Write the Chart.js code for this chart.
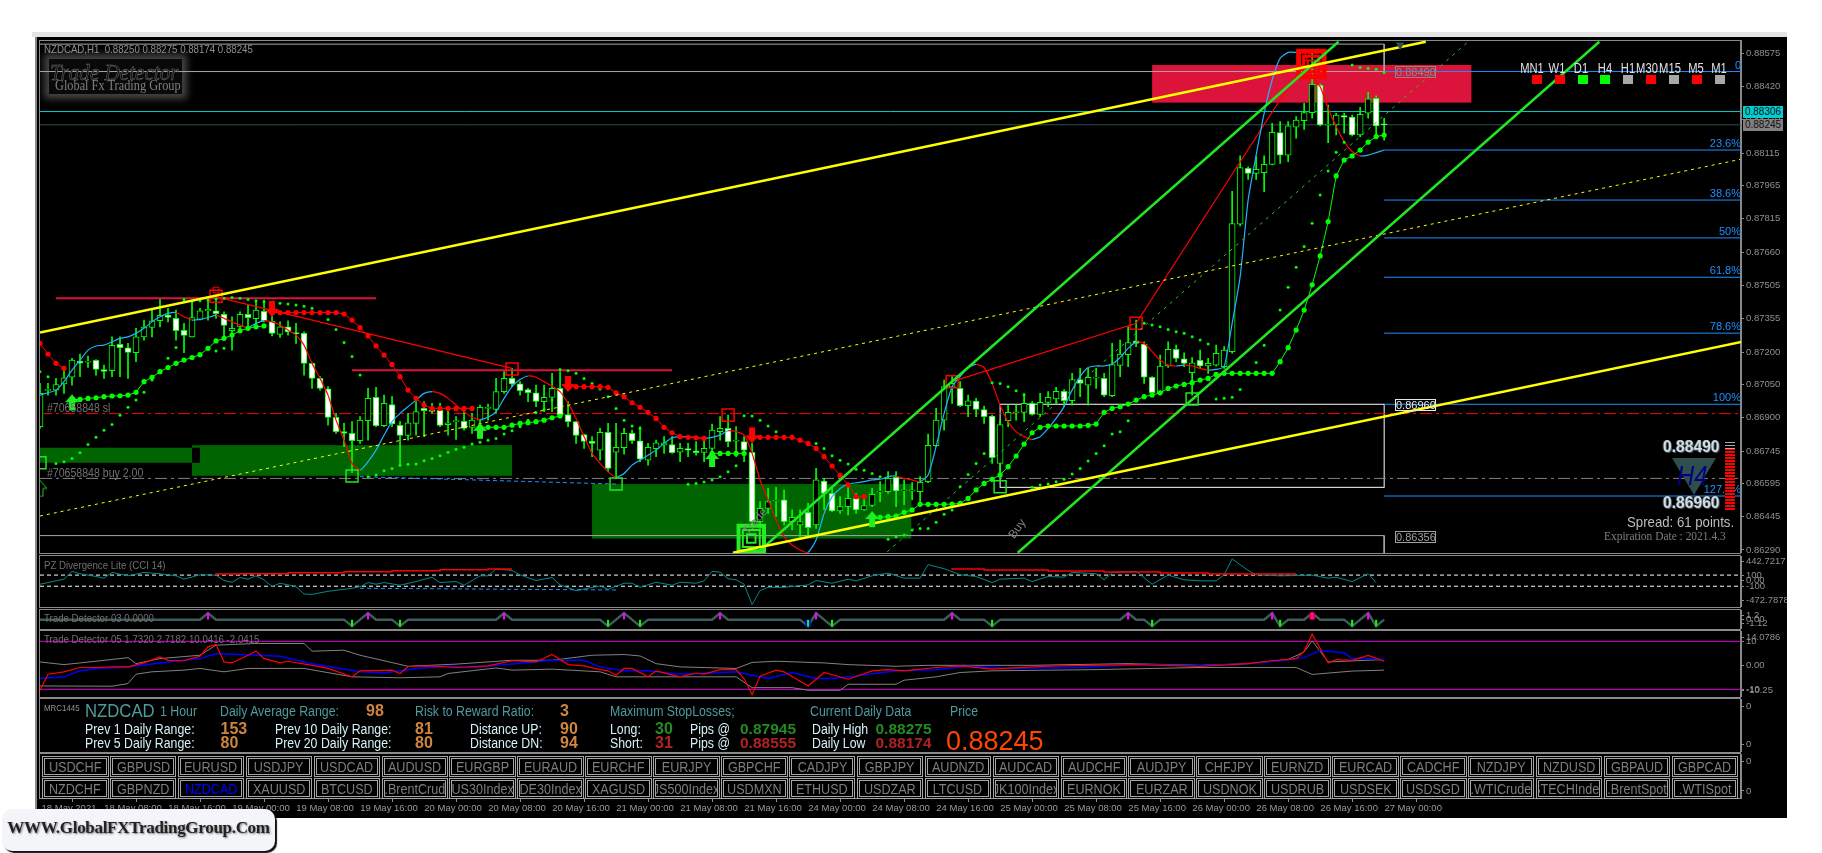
<!DOCTYPE html>
<html>
<head>
<meta charset="utf-8">
<title>NZDCAD,H1</title>
<script src="https://cdn.jsdelivr.net/npm/chart.js@4/dist/chart.umd.min.js"></script>
<style>
html, body { margin: 0; padding: 0; background: #fff; width: 1822px; height: 853px; overflow: hidden; }
body { position: relative; font-family: "Liberation Sans", sans-serif; }
canvas { position: absolute; left: 40px; z-index: 2; }
#strip { position: absolute; left: 32px; top: 32px; width: 1755px; height: 5px; background: #e4e4e4; }
#frame { position: absolute; left: 35px; top: 37px; width: 1752px; height: 781px; background: #000; border-left: 2px solid #8a8a8a; box-sizing: border-box; }
.pane { position: absolute; left: 39px; width: 1702px; border: 1px solid #8a8a8a; box-sizing: border-box; z-index: 1; }
.t { position: absolute; white-space: nowrap; transform: translateY(-50%) scaleX(0.88); transform-origin: left center; z-index: 5; }
.btn { position: absolute; box-sizing: border-box; border: 3px double #a5a5a5; color: #7d7d7d; font-size: 14px; display: flex; justify-content: center; align-items: center; overflow: hidden; white-space: nowrap; z-index: 5; background: #000; }
.btn span { flex-shrink: 0; transform: scaleX(0.9); }
.swatch { position: absolute; width: 10px; height: 9px; z-index: 5; }
.tag { position: absolute; box-sizing: border-box; font-size: 11px; line-height: 10px; text-align: center; z-index: 5; border: 1px solid; width: 41px; height: 12px; }
.price { position: absolute; left: 1743px; width: 40px; height: 12px; line-height: 12px; text-align: center; font-size: 10px; color: #111; z-index: 6; }
#logo { position: absolute; left: 49px; top: 59px; width: 133px; height: 35px; background: #090909; box-shadow: 0 0 7px 5px #444; z-index: 1; }
#brand { position: absolute; left: 2px; top: 809px; width: 273px; height: 42px; background: #f4f5f8; border-radius: 10px; box-shadow: 2px 2px 1px #111; z-index: 8; font: bold 17px "Liberation Serif", serif; color: #222; line-height: 38px; text-align: center; text-shadow: 1px 1px 2px #777; letter-spacing: -0.3px; }
#tri { position: absolute; left: 1672px; top: 458px; width: 0; height: 0; border-left: 22px solid transparent; border-right: 22px solid transparent; border-top: 37px solid #2f4f4f; z-index: 4; }
#stack { position: absolute; left: 1725px; top: 442px; width: 10px; height: 68px; z-index: 4;
  background: repeating-linear-gradient(to bottom, #ff0000 0, #ff0000 2px, #000 2px, #000 3px); }
#stackTop { position: absolute; left: 1725px; top: 442px; width: 10px; height: 7px; z-index: 4;
  background: repeating-linear-gradient(to bottom, #aaa 0, #aaa 1px, #000 1px, #000 3px); }
</style>
</head>
<body>
<div id="strip"></div>
<div id="frame"></div>
<div id="logo"></div>
<div id="tri"></div>
<div id="stack"></div>
<div id="stackTop"></div>
<div id="brand">WWW.GlobalFXTradingGroup.Com</div>

<script>
// Candles, values in points (1/100000), one bar per hour from 18 May 2021
const opens = [
86857,87024,87025,87053,87084,87159,87154,87162,87120,87114,
87235,87220,87197,87270,87313,87344,87370,87355,87300,87270,
87350,87390,87390,87373,87298,87316,87373,87353,87387,87341,
87281,87316,87290,87286,87148,87079,87031,86900,86834,86826,
86792,86884,86992,86861,86959,86863,86817,86872,86941,86930,
86933,86866,86880,86881,86854,86887,86941,86936,87018,87079,
87054,87028,87013,86972,86992,87033,86912,86880,86821,86789,
86749,86831,86740,86760,86826,86792,86703,86756,86772,86775,
86740,86756,86746,86739,86757,86834,86849,86790,86788,86739,
86420,86481,86515,86520,86420,86405,86463,86405,86607,86550,
86470,86489,86527,86474,86495,86556,86558,86624,86562,86560,
86558,86604,86769,86887,87038,87033,86953,86975,86936,86906,
86688,86884,86921,86923,86964,86913,86969,86985,87019,86976,
87074,87048,87080,87079,86999,87139,87188,87252,87237,87084,
87013,87136,87212,87169,87105,87162,87136,87140,87133,87202,
87788,88045,88022,88025,88063,88209,88105,88234,88264,88301,
88428,88243,88244,88287,88280,88198,88298,88367,88250];
const closes = [
87010,87027,87051,87082,87163,87149,87157,87120,87111,87231,
87220,87198,87270,87315,87344,87369,87359,87298,87277,87359,
87390,87396,87376,87323,87309,87373,87358,87393,87344,87286,
87316,87293,87283,87148,87079,87033,86900,86834,86826,86792,
86887,86987,86861,86964,86869,86817,86875,86926,86930,86927,
86863,86875,86882,86849,86887,86946,86944,87018,87079,87054,
87022,87013,86973,86992,87033,86910,86880,86817,86789,86780,
86831,86665,86762,86826,86792,86707,86762,86783,86783,86737,
86757,86749,86737,86757,86841,86849,86788,86793,86749,86420,
86481,86512,86518,86420,86440,86420,86392,86612,86550,86470,
86489,86527,86474,86494,86546,86559,86619,86562,86565,86566,
86601,86771,86887,87041,87056,86953,86976,86936,86903,86714,
86867,86923,86925,86964,86913,86969,86992,87019,86976,87074,
87056,87084,87083,87002,87143,87191,87244,87240,87084,87013,
87136,87212,87171,87148,87151,87136,87148,87194,87209,87791,
88048,88022,88040,88063,88211,88105,88240,88267,88301,88431,
88244,88246,88290,88280,88198,88293,88364,88240,88245];
const highs = [
87056,87056,87079,87117,87171,87191,87182,87165,87140,87270,
87270,87240,87309,87347,87393,87444,87401,87393,87332,87439,
87401,87439,87439,87385,87362,87385,87416,87431,87439,87378,
87339,87344,87332,87293,87150,87087,87041,86918,86872,86880,
86903,87033,87038,87002,86995,86880,86918,86972,86972,86964,
86964,86933,86903,86926,86918,86956,86961,87079,87110,87125,
87064,87033,87048,87048,87102,87110,86972,86882,86823,86811,
86849,86872,86872,86849,86841,86857,86780,86795,86811,86811,
86780,86780,86788,86811,86869,86903,86910,86857,86811,86780,
86512,86573,86578,86566,86474,86474,86504,86665,86619,86573,
86535,86581,86550,86535,86573,86604,86650,86650,86612,86600,
86627,86823,86941,87071,87087,87064,87002,86987,86952,86910,
86887,86956,86956,87010,86972,87010,87018,87038,87028,87102,
87125,87125,87125,87102,87240,87255,87316,87347,87247,87087,
87186,87247,87232,87197,87175,87209,87171,87232,87225,87939,
88102,88052,88099,88102,88252,88260,88260,88283,88344,88589,
88432,88336,88298,88298,88290,88325,88394,88378,88275];
const lows = [
86849,87002,87002,87010,87048,87087,87129,87094,87079,87087,
87087,87079,87156,87255,87270,87316,87339,87255,87197,87268,
87348,87347,87355,87270,87209,87301,87309,87324,87339,87274,
87267,87278,87240,87094,87033,87025,86864,86826,86765,86645,
86780,86795,86857,86857,86857,86680,86795,86818,86811,86918,
86857,86818,86798,86841,86826,86841,86887,86918,87010,87041,
87002,86972,86949,86926,86926,86903,86857,86780,86757,86719,
86703,86650,86627,86731,86780,86696,86680,86719,86734,86734,
86696,86719,86726,86696,86734,86795,86765,86719,86696,86405,
86389,86458,86443,86405,86382,86351,86351,86389,86474,86466,
86458,86451,86458,86472,86489,86512,86550,86489,86497,86520,
86504,86599,86765,86841,86964,86949,86903,86903,86872,86688,
86635,86857,86887,86880,86910,86903,86949,86964,86949,86956,
86995,86956,87033,86995,86995,87087,87133,87225,87056,87002,
87002,87129,87156,87133,87002,87125,87102,87135,87125,87195,
87780,87994,87994,87938,88060,88068,88076,88183,88224,88275,
88240,88163,88198,88206,88194,88191,88275,88191,88174];

// Smooth line, drawn blue while rising and red while falling
const smoothLine = [
87002,87013,87025,87064,87117,87163,87209,87228,87232,87247,
87263,87270,87286,87309,87339,87362,87378,87382,87362,87347,
87350,87359,87370,87355,87339,87324,87312,87332,87343,87339,
87324,87301,87278,87232,87148,87079,87002,86887,86795,86688,
86657,86696,86749,86818,86880,86918,86949,86979,87010,87018,
87010,86987,86956,86926,86900,86890,86900,86926,86987,87041,
87074,87090,87084,87064,87044,87018,86964,86895,86811,86734,
86688,86650,86624,86642,86680,86703,86726,86749,86780,86806,
86811,86811,86808,86803,86808,86818,86838,86834,86818,86734,
86612,86520,86428,86351,86313,86290,86279,86336,86458,86535,
86573,86593,86599,86604,86612,86615,86627,86630,86619,86612,
86604,86635,86765,86918,87041,87087,87129,87143,87129,87056,
86956,86880,86834,86811,86798,86811,86849,86895,86949,87025,
87087,87129,87136,87136,87145,87175,87217,87247,87240,87202,
87163,87140,87136,87140,87136,87125,87117,87120,87133,87332,
87547,87899,88106,88298,88451,88551,88578,88578,88578,88466,
88420,88321,88237,88168,88122,88102,88106,88117,88129];

// Large dots of the trend stop, bar indexes and values
const greenDotBars = [4,5,6,7,8,9,10,11,12,13,14,15,16,17,18,19,20,21,22,23,24,25,26,27,28,
55,56,57,58,59,60,61,62,63,64,65,84,85,86,87,88,
104,105,106,107,108,109,110,111,112,113,114,115,116,117,118,119,120,121,122,123,124,125,126,127,128,129,130,131,132,133,134,135,136,137,138,139,140,141,142,143,144,145,146,147,148,149,150,151,152,153,154,155,156,157,158,159,160,161,162,163,164,165,166,167,168];
const greenDotValues = [86982,86982,86987,86990,86995,86998,86999,87002,87015,87064,87084,87110,87129,87148,87163,87175,87188,87217,87251,87263,87278,87298,87309,87316,87320,
86854,86854,86854,86854,86864,86872,86875,86880,86887,86898,86906,86734,86734,86734,86734,86734,
86435,86440,86443,86446,86463,86474,86500,86500,86500,86500,86501,86504,86527,86566,86596,86615,86635,86673,86722,86777,86829,86854,86860,86860,86860,86860,86860,86863,86869,86923,86941,86949,86961,86979,86995,87002,87013,87033,87044,87051,87059,87071,87079,87097,87102,87102,87102,87102,87102,87102,87102,87156,87220,87301,87393,87509,87642,87800,88010,88083,88102,88129,88165,88191,88198];
const redDotBars = [0,1,2,3,
29,30,31,32,33,34,35,36,37,38,39,40,41,42,43,44,45,46,47,48,49,50,51,52,53,54,
66,67,68,69,70,71,72,73,74,75,76,77,78,79,80,81,82,83,
89,90,91,92,93,94,95,96,97,98,99,100,101,102,103];
const redDotValues = [87240,87191,87148,87125,
87382,87382,87382,87382,87382,87382,87382,87382,87382,87375,87347,87313,87274,87228,87186,87143,87087,87025,86987,86956,86941,86941,86941,86941,86941,86941,
87041,87041,87041,87041,87041,87038,87013,86995,86967,86946,86923,86895,86854,86829,86811,86808,86806,86803,
86808,86808,86808,86808,86808,86808,86795,86780,86757,86719,86676,86633,86589,86535,86535];

// Small dots
const sarBars = [0,1,2,3,4,5,6,7,8,9,10,11,12,13,14,15,16,17,18,19,20,21,22,22,23,23,24,25,26,27,28,29,30,31,32,33,34,35,36,37,38,39,40,
41,42,43,44,45,46,47,48,49,50,51,52,53,54,55,56,57,58,59,60,61,62,63,64,65,66,67,68,69,70,71,72,73,74,75,
81,82,83,84,85,86,87,88,89,90,91,92,93,97,98,99,100,101,102,103,104,105,
106,107,108,109,110,111,112,113,114,115,116,117,118,119,120,121,122,123,124,125,126,127,128,129,130,131,132,133,134,135,136,
138,139,140,141,142,143,144,145,146,147,148,149,150,152,153,155,156,157,158,159,160,161,162,163,164,165,166,167,168];
const sarValues = [87110,87087,86688,86696,86711,86737,86775,86808,86840,86867,86909,86946,86979,87015,87071,87114,87171,87221,87442,87434,87436,87439,87444,87205,87448,87217,87451,87447,87442,87436,87431,87427,87424,87421,87416,87411,87401,87378,87350,87304,87244,87180,87094,
86627,86635,86654,86665,86680,86684,86685,86700,86711,86723,86739,86753,86762,86777,86785,86795,86803,86823,86838,86857,86887,86921,86936,86979,87120,87114,87102,87079,87056,87030,86995,86941,86887,86860,86849,
86592,86596,86602,86612,86627,86650,86677,86907,86906,86887,86860,86834,86808,86780,86757,86723,86703,86685,86661,86657,86642,86627,
86339,86351,86359,86382,86389,86389,86417,86454,86474,86581,86637,86688,86734,87059,87056,87041,87022,87002,86578,86589,86593,86604,86615,86639,86665,86699,86734,86769,86823,86834,86884,
87332,87324,87316,87304,87293,87286,87270,87255,87237,86984,86988,86992,87028,87152,87231,87393,87498,87590,87685,87792,87922,88033,88119,88165,88520,88509,88505,88500,88486];

// Zigzag swings and markers
const zigzagFirstBars = [22,59];
const zigzagFirstValues = [87454,87125];
const zigzagSecondBars = [114,137,159];
const zigzagSecondValues = [87064,87332,88589];
const redSquareBars = [22,59,86,114,137];
const redSquareValues = [87457,87122,86910,87064,87332];
const greenSquareBars = [0,39,72,120,144];
const greenSquareValues = [86691,86630,86593,86581,86984];
const upArrowBars = [4,55,84,104];
const upArrowValues = [86969,86838,86708,86432];
const downArrowBars = [29,66,89];
const downArrowValues = [87398,87053,86817];

// Drawn objects: [bar, value, bar, value]
const yellowChannel = [[0,87290,173.2,88627],[86.6,86277,212.7,87247]];
const yellowMiddle = [0,86446,212.5,88086];
const greenChannel = [[89.8,86282,162.3,88627],[122.2,86277,194.9,88627]];
const greenMiddle = [105.9,86282,178.5,88627];
const blueDashed = [40,86627,72,86593];
const crimsonLines = [[2,87448,42,87448],[39,87116,79,87116]];
const grayLines = [[0,88616,168,88616],[0,88490,168,88490],[0,86356,168,86356],[168,88616,168,88490],[168,86356,168,86276]];
const slLevel = 86917;
const buyLevel = 86619;
const bidLevel = 88245;
const askLevel = 88306;

// Fibonacci levels, from the last bar to the right edge
const fibValues = [88490,88129,87899,87725,87544,87287,86960,86538];
const fibLabels = ['0','23.6%','38.6%','50%','61.8%','78.6%','100%','127.6%'];

// Zones: [first bar, last bar, upper value, lower value]
const greenZones = [[0,19,86760,86691],[19,59,86772,86631],[69,108.9,86593,86342]];
const notchZone = [19,20,86760,86691];
const crimsonZone = [139,178.9,88520,88347];
const whiteBox = [120,168,86960,86578];

// CCI pane
const cciBars = [0,1,3,4,5,7,8,9,11,13,15,17,18,20,22,23,24,25,26,27,28,29,30,31,32,33,34,36,39,40,41,42,43,45,47,49,50,52,53,55,56,57,59,60,62,64,65,67,70,71,73,74,75,77,79,80,82,83,84,85,86,87,88,89,90,91,93,96,97,99,101,102,104,106,108,110,111,113,115,117,119,120,123,124,126,128,129,132,133,134,137,139,141,143,145,147,148,149,151,152,155,159,161,162,164,166,167];
const cciValues = [-64,-34,27,166,124,75,45,148,87,148,124,87,27,105,99,2,-28,57,27,87,15,-107,-46,-76,-107,-240,-246,-191,-137,-107,-34,-64,-34,-82,-16,63,-34,-16,-82,87,87,208,184,105,2,57,-76,-179,-94,-155,-46,-46,-119,-28,-82,-28,-46,-4,166,154,33,15,-64,-428,-179,-119,-119,-76,2,-46,27,-4,87,136,45,45,287,215,105,75,-34,27,45,-16,75,63,148,124,15,148,166,-64,99,15,-4,-4,105,390,184,105,87,99,45,63,-16,124,-34];
const cciRedABars = [22,25,31,38,44,50,56,59];
const cciRedAValues = [99,118,124,142,160,178,196,209];
const cciRedBBars = [114,118,126,133,140,146,151,157];
const cciRedBValues = [227,209,191,172,154,136,118,118];
const cciBlueBars = [40,72];
const cciBlueValues = [-137,-167];
const cciLevels = [100,-100];
const cciTicks = [342,100,0,-100,-362];
const cciTickLabels = ['442.7217','100','0.00','-100','-472.7878'];

// Trade Detector 03 pane
const td03Peaks = [21,41,58,73,85,97,114,136,154,159,166];
const td03Troughs = [39,45,71,75,96,99,119,139,155,164,167];
const td03LastBar = 168;
const td03Ticks = [0.62,0,-0.52];
const td03TickLabels = ['1.2','0.00','-1.12'];

// Trade Detector 05 pane
const td05RedBars = [0,1,3,5,7,9,11,13,15,16,18,20,21,22,23,24,26,27,28,30,31,34,36,39,40,44,45,46,49,52,56,59,62,64,66,68,70,71,72,73,74,76,77,80,82,83,85,87,88,89,90,92,93,96,98,101,104,106,108,112,115,119,124,127,137,145,151,154,157,158,159,160,161,162,164,166,168];
const td05RedValues = [-10.4,-3.7,-2.7,-0.9,-0.9,-0.65,-0.65,1,3.5,2.1,1.9,3.8,7.7,8.7,1.4,1,4.2,6,2.8,1,1.7,0,-1.3,-4.8,-2.3,-2,-3.4,-0.5,-0.2,-0.9,-0.2,1.9,1.4,4.5,0.3,-0.2,-1.8,-2.3,-4.1,-1.3,-1.3,-4.8,-2.3,-4.8,-3.2,-3.7,-1.8,-1.8,-5.5,-12.2,-4.5,-2,-2.7,-8.6,-3,-5.8,-2.3,-1.8,-2.3,-0.9,-0.2,-1.6,-0.65,-0.2,0.3,-0.5,0.7,1.9,2.8,5.9,13,7,1,2.4,2.1,4.1,1.7];
const td05BlueBars = [0,3,5,7,11,15,20,22,25,30,34,40,43,47,51,54,59,64,68,70,73,76,80,85,87,89,91,94,97,99,102,107,112,116,121,130,137,145,151,155,158,160,163,164,166,168];
const td05BlueValues = [-5.5,-4.8,-2.3,-1.3,-0.65,1,2.8,4.9,4.5,3.8,0.7,-2.7,-3.2,-1.3,-0.4,-0.9,0.5,2.1,2.1,-0.65,-2.3,-2.3,-3.7,-3,-2.7,-4.1,-5.5,-3,-5.5,-5.5,-4.4,-2.3,-1.8,-0.4,-1.3,-0.9,0.3,-0.2,0.7,1.9,3.2,6.2,5.2,2.8,2.8,2.4];
const td05UpperBars = [0,3,7,11,12,15,20,22,27,33,34,38,40,46,52,59,64,69,73,75,77,80,87,89,92,98,101,107,111,119,124,136,145,151,156,158,159,161,168];
const td05UpperValues = [1.4,0.3,1.7,3.2,0.7,2.8,4.2,8.4,9.1,9.1,5.9,6.3,4.2,-0.4,0.5,2.1,2.1,4.2,4.5,3.9,0.7,-0.65,-1.3,1.2,1.7,1,0.3,-0.4,0,0,0,0.7,0,0.7,2.4,5.6,10.2,1.4,2.4];
const td05LowerBars = [0,9,11,12,14,18,20,23,26,33,39,45,50,51,57,59,64,70,72,87,89,94,96,100,101,107,108,112,115,119,132,145,157,159,164,168];
const td05LowerValues = [-8.6,-8.7,-7.6,-3.7,-2.7,-2,-1.3,-2.7,-1.3,-1.3,-4.8,-5.2,-4.8,-3.4,-1.1,-2,-1.6,-2.7,-4.8,-4.8,-9.3,-9.3,-10.4,-10.4,-7.9,-7.9,-6.2,-4.8,-3,-2.3,-1.8,-0.9,-0.9,-3.8,-2.4,-2];
const td05Levels = [10,-10];
const td05Ticks = [11.8,10,0,-10,-10.6];
const td05TickLabels = ['14.0786','10','0.00','-10','-10.25'];

// Axes
const priceTicks = [88575,88420,88270,88115,87965,87815,87660,87505,87355,87200,87050,86900,86745,86595,86445,86290];
const timeTicks = [0,8,16,24,32,40,48,56,64,72,80,88,96,104,112,120,128,136,144,152,160,168];
const timeLabels = ['18 May 2021','18 May 08:00','18 May 16:00','19 May 00:00','19 May 08:00','19 May 16:00','20 May 00:00','20 May 08:00','20 May 16:00','21 May 00:00','21 May 08:00','21 May 16:00','24 May 00:00','24 May 08:00','24 May 16:00','25 May 00:00','25 May 08:00','25 May 16:00','26 May 00:00','26 May 08:00','26 May 16:00','27 May 00:00'];
const lastAxisBar = 212.6;

// Symbol buttons
const buttonRowOne = ['USDCHF','GBPUSD','EURUSD','USDJPY','USDCAD','AUDUSD','EURGBP','EURAUD','EURCHF','EURJPY','GBPCHF','CADJPY','GBPJPY','AUDNZD','AUDCAD','AUDCHF','AUDJPY','CHFJPY','EURNZD','EURCAD','CADCHF','NZDJPY','NZDUSD','GBPAUD','GBPCAD'];
const buttonRowTwo = ['NZDCHF','GBPNZD','NZDCAD','XAUUSD','BTCUSD','.BrentCrud','US30Index','DE30Index','XAGUSD','JS500Index','USDMXN','ETHUSD','USDZAR','LTCUSD','JK100Index','EURNOK','EURZAR','USDNOK','USDRUB','USDSEK','USDSGD','.WTICrude','STECHIndex','.BrentSpot','.WTISpot'];

// Timeframe strip
const frames = ['MN1','W1','D1','H4','H1','M30','M15','M5','M1'];
const frameColors = ['#ff0000','#ff0000','#00ff00','#00ff00','#a8a8a8','#ff0000','#a8a8a8','#ff0000','#a8a8a8'];
const frameLabelX = [1532,1557,1581,1605,1628,1647,1670,1696,1719];
const frameBoxX = [1532,1555,1578,1600,1623,1646,1669,1692,1715];

const GREEN = '#00ff00';
const THICK_GREEN = '#22e622';
const price = v => v / 100000;
const xy = (bars, values, scale) => bars.map((b, i) => ({ x: b, y: scale ? scale(values[i]) : values[i] }));

// Insert breaks where the bar numbers jump, so a line is not drawn across them
function withGaps(points) {
    const out = [];
    points.forEach((p, i) => {
        if (i > 0 && p.x - points[i - 1].x > 1) out.push({ x: p.x, y: null });
        out.push(p);
    });
    return out;
}

function line(data, color, width, dash, order) {
    return { type: 'line', data, borderColor: color, borderWidth: width, borderDash: dash || [], pointRadius: 0, order: order, tension: 0, fill: false };
}
const seg = s => [{ x: s[0], y: price(s[1]) }, { x: s[2], y: price(s[3]) }];
const hline = (v, from, to) => [{ x: from, y: price(v) }, { x: to, y: price(v) }];

function dots(data, color, radius, order, extra) {
    return Object.assign({ type: 'scatter', data, backgroundColor: color, borderColor: color, pointRadius: radius, pointBorderWidth: 0, order: order }, extra || {});
}
function squares(data, color, radius, width, order) {
    return { type: 'scatter', data, pointStyle: 'rect', pointRadius: radius, pointBackgroundColor: 'rgba(0,0,0,0)', pointBorderColor: color, pointBorderWidth: width, order: order };
}

function makeArrow(color, up, hollow) {
    const c = document.createElement('canvas');
    c.width = 16; c.height = 18;
    const g = c.getContext('2d');
    g.fillStyle = color;
    g.strokeStyle = color;
    g.beginPath();
    const pts = [[8,1],[15,9],[11,9],[11,17],[5,17],[5,9],[1,9]];
    pts.forEach((p, i) => {
        const y = up ? p[1] : 18 - p[1];
        if (i === 0) g.moveTo(p[0], y); else g.lineTo(p[0], y);
    });
    g.closePath();
    if (hollow) g.stroke(); else g.fill();
    return c;
}

// Zones and boxes sit behind the candles, through the chart's own scales
const zonePlugin = {
    id: 'zones',
    beforeDatasetsDraw(chart) {
        const g = chart.ctx, X = chart.scales.x, Y = chart.scales.y;
        const rect = z => [X.getPixelForValue(z[0]), Y.getPixelForValue(price(z[2])), X.getPixelForValue(z[1]) - X.getPixelForValue(z[0]), Y.getPixelForValue(price(z[3])) - Y.getPixelForValue(price(z[2]))];
        g.save();
        g.fillStyle = '#dc143c';
        g.fillRect(...rect(crimsonZone));
        g.fillStyle = '#006400';
        greenZones.forEach(z => g.fillRect(...rect(z)));
        g.fillStyle = '#000';
        g.fillRect(...rect(notchZone));
        g.strokeStyle = '#fff';
        g.lineWidth = 1;
        g.strokeRect(...rect(whiteBox));
        g.restore();
    },
    afterDatasetsDraw(chart) {
        const g = chart.ctx, Y = chart.scales.y, right = chart.chartArea.right;
        g.save();
        g.fillStyle = '#1e90ff';
        g.font = '11px "Liberation Sans", sans-serif';
        g.textAlign = 'right';
        fibValues.forEach((v, i) => g.fillText(fibLabels[i], right, Y.getPixelForValue(price(v)) - 3));
        g.restore();
    }
};

// One chart per pane, all sharing the same bar axis
function makePane(top, height, min, max, datasets, ticks, tickLabels, plugins, withTime) {
    const canvas = document.createElement('canvas');
    canvas.width = 1747;
    canvas.height = height;
    canvas.style.top = top + 'px';
    document.body.appendChild(canvas);
    return new Chart(canvas.getContext('2d'), {
        type: 'bar',
        data: { datasets },
        plugins: plugins || [],
        options: {
            responsive: false,
            animation: false,
            events: [],
            layout: { padding: 0, autoPadding: false },
            plugins: { legend: { display: false }, tooltip: { enabled: false } },
            scales: {
                x: {
                    type: 'linear',
                    min: 0,
                    max: lastAxisBar,
                    display: !!withTime,
                    offset: false,
                    grid: { drawOnChartArea: false, color: '#8a8a8a', tickLength: 4 },
                    border: { display: false },
                    afterBuildTicks: s => { s.ticks = timeTicks.map(v => ({ value: v })); },
                    afterFit: s => { s.paddingLeft = 0; s.paddingRight = 0; if (withTime) s.height = 20; },
                    ticks: {
                        autoSkip: false,
                        maxRotation: 0,
                        labelOffset: 29,
                        padding: 1,
                        color: '#9a9a9a',
                        font: { family: '"Liberation Sans", sans-serif', size: 9.5 },
                        callback: (v, i) => timeLabels[i]
                    }
                },
                y: {
                    position: 'right',
                    min,
                    max,
                    border: { color: '#8a8a8a' },
                    grid: { drawOnChartArea: false, color: '#8a8a8a', tickLength: 3 },
                    afterBuildTicks: s => { s.ticks = ticks.map(v => ({ value: v })); },
                    afterFit: s => { s.width = 46; s.paddingTop = 0; s.paddingBottom = 0; },
                    ticks: {
                        autoSkip: false,
                        padding: 2,
                        color: '#8f8f8f',
                        font: { family: '"Liberation Sans", sans-serif', size: 9.5 },
                        callback: (v, i) => tickLabels[i]
                    }
                }
            }
        }
    });
}

// Main price pane
const barIndex = opens.map((_, i) => i);
const mainData = [
    line(seg(yellowChannel[0]), '#ffff00', 2.5, [], 1),
    line(seg(yellowChannel[1]), '#ffff00', 2.5, [], 1),
    line(seg(greenChannel[0]), THICK_GREEN, 2.5, [], 1),
    line(seg(greenChannel[1]), THICK_GREEN, 2.5, [], 1),
    line(seg(yellowMiddle), '#ffff00', 1, [3, 4], 2),
    line(seg(greenMiddle), '#22cc22', 1, [3, 5], 2),
    line(seg(blueDashed), '#1e90ff', 1, [4, 3], 6),
    line(seg(crimsonLines[0]), '#dc143c', 2, [], 7),
    line(seg(crimsonLines[1]), '#dc143c', 2, [], 7),
    ...grayLines.map(s => line(seg(s), '#a8a8a8', 1, [], 20)),
    line(hline(slLevel, 0, lastAxisBar), '#ff0000', 1, [12, 4, 3, 4], 20),
    line(hline(buyLevel, 0, lastAxisBar), '#808080', 1, [12, 4, 3, 4], 20),
    line(hline(askLevel, 0, lastAxisBar), '#00ced1', 1, [], 20),
    line(hline(bidLevel, 0, lastAxisBar), '#2f4f4f', 1, [], 20),
    ...fibValues.map(v => line(hline(v, 168, lastAxisBar), '#1e90ff', 1, [], 20)),
    // candles: wicks first, bodies over them
    { type: 'bar', data: barIndex.map(i => ({ x: i, y: [price(lows[i]), price(highs[i])] })), backgroundColor: GREEN, barThickness: 1, grouped: false, order: 12 },
    { type: 'bar', data: barIndex.map(i => ({ x: i, y: [price(opens[i]), price(closes[i])] })), backgroundColor: ctx => (closes[ctx.dataIndex] < opens[ctx.dataIndex] ? '#ffffff' : '#000000'), borderColor: GREEN, borderWidth: 1, borderSkipped: false, barThickness: 6, minBarLength: 1, grouped: false, order: 11 },
    // smooth line coloured by direction
    { type: 'line', data: barIndex.map(i => ({ x: i, y: price(smoothLine[i]) })), borderWidth: 1.2, pointRadius: 0, tension: 0.2, order: 5, borderColor: '#1eb4ff',
      segment: { borderColor: c => (c.p1.parsed.y >= c.p0.parsed.y ? '#1eb4ff' : '#ff0000') } },
    line(xy(zigzagFirstBars, zigzagFirstValues, price), '#ff0000', 1.2, [], 5),
    line(xy(zigzagSecondBars, zigzagSecondValues, price), '#ff0000', 1.2, [], 5),
    // trend stop dots joined by a thin line
    { type: 'line', data: withGaps(xy(greenDotBars, greenDotValues, price)), borderColor: GREEN, backgroundColor: GREEN, borderWidth: 1, pointRadius: 2.6, pointBorderWidth: 0, order: 4, tension: 0 },
    { type: 'line', data: withGaps(xy(redDotBars, redDotValues, price)), borderColor: '#ff0000', backgroundColor: '#ff0000', borderWidth: 1, pointRadius: 2.6, pointBorderWidth: 0, order: 4, tension: 0 },
    dots(xy(sarBars, sarValues, price), GREEN, 1.5, 4),
    squares(xy(redSquareBars, redSquareValues, price), '#ff0000', 8.5, 1.5, 3),
    squares(xy(greenSquareBars, greenSquareValues, price), '#22e622', 8.5, 1.5, 3),
    squares([{ x: 22, y: price(87485) }], '#ff0000', 4, 1, 3),
    squares([{ x: 88.9, y: price(86343) }], '#22ee22', 18, 4, 3),
    squares([{ x: 88.9, y: price(86343) }], '#22ee22', 12, 2, 3),
    squares([{ x: 88.9, y: price(86343) }], '#22ee22', 6, 2, 3),
    squares([{ x: 158.9, y: price(88525) }], '#ff0000', 18, 5, 3),
    squares([{ x: 158.9, y: price(88525) }], '#ff0000', 11, 3, 3),
    squares([{ x: 158.9, y: price(88525) }], '#ff0000', 5, 2, 3),
    dots(xy(upArrowBars, upArrowValues, price), THICK_GREEN, 9, 0, { pointStyle: makeArrow('#1ff01f', true) }),
    dots(xy(downArrowBars, downArrowValues, price), '#ff0000', 9, 0, { pointStyle: makeArrow('#ff0000', false) }),
    dots([{ x: 0, y: price(86573) }], THICK_GREEN, 9, 0, { pointStyle: makeArrow('#22bb22', true, true) }),
    dots([{ x: 170, y: price(88612) }], '#2f4f4f', 5, 0, { pointStyle: 'triangle', rotation: 180 })
];
makePane(40, 513, 0.86276, 0.88635, mainData, priceTicks.map(price), priceTicks.map(v => price(v).toFixed(5)), [zonePlugin]);

// CCI pane
const cciData = [
    line(xy(cciBars, cciValues), '#008b8b', 1, [], 3),
    Object.assign(line(xy(cciRedABars, cciRedAValues), '#ff0000', 1.5, [], 2), { stepped: 'after' }),
    Object.assign(line(xy(cciRedBBars, cciRedBValues), '#ff0000', 1.5, [], 2), { stepped: 'after' }),
    line(xy(cciBlueBars, cciBlueValues), '#1e90ff', 1, [4, 3], 2),
    ...cciLevels.map(v => line([{ x: 0, y: v }, { x: lastAxisBar, y: v }], '#ffffff', 1, [4, 3], 5))
];
makePane(556, 51, -472.79, 442.72, cciData, cciTicks, cciTickLabels);

// Trade Detector 03: flat at zero with one bar spikes
const td03Line = [];
for (let i = 0; i <= td03LastBar; i++) {
    td03Line.push({ x: i, y: td03Peaks.includes(i) ? 1 : td03Troughs.includes(i) ? -1 : 0 });
}
const td03Data = [
    { type: 'bar', data: [{ x: 96, y: [-1, 0] }], backgroundColor: '#0000ff', barThickness: 5, grouped: false, order: 1 },
    { type: 'bar', data: [{ x: 159, y: [0, 1] }], backgroundColor: '#ff0000', barThickness: 5, grouped: false, order: 1 },
    { type: 'bar', data: td03Peaks.map(b => ({ x: b, y: [0, 1] })), backgroundColor: '#ff00ff', barThickness: 1.5, grouped: false, order: 0 },
    { type: 'bar', data: td03Troughs.map(b => ({ x: b, y: [-1, 0] })), backgroundColor: '#00ff00', barThickness: 1.5, grouped: false, order: 0 },
    line(td03Line, '#3b5e5e', 2.5, [], 3)
];
makePane(610, 19, -1.43, 1.47, td03Data, td03Ticks, td03TickLabels);

// Trade Detector 05
const td05Data = [
    line(xy(td05RedBars, td05RedValues), '#ff0000', 1.2, [], 1),
    line(xy(td05BlueBars, td05BlueValues), '#0000ff', 1.5, [], 2),
    line(xy(td05UpperBars, td05UpperValues), '#808080', 1, [], 3),
    line(xy(td05LowerBars, td05LowerValues), '#808080', 1, [], 3),
    ...td05Levels.map(v => line([{ x: 0, y: v }, { x: lastAxisBar, y: v }], '#e000e0', 1, [], 4))
];
makePane(631, 66, -13.2, 14.3, td05Data, td05Ticks, td05TickLabels);

// Empty panel pane and the button pane, which carries the time axis
makePane(699, 53, -1, 1, [], [0.71, -0.7], ['0', '0']);
makePane(754, 64, -1, 1, [], [0.68, -0.68], ['0', '0'], [], true);

// Pane frames
[[40, 514], [555, 53], [609, 21], [630, 68], [698, 55], [753, 46]].forEach(p => {
    const d = document.createElement('div');
    d.className = 'pane';
    d.style.top = p[0] + 'px';
    d.style.height = p[1] + 'px';
    document.body.appendChild(d);
});

// Text helper
function text(str, x, y, size, color, extra) {
    const d = document.createElement('div');
    d.className = 't';
    d.textContent = str;
    d.style.left = x + 'px';
    d.style.top = y + 'px';
    d.style.fontSize = size + 'px';
    d.style.color = color;
    if (extra) Object.assign(d.style, extra);
    document.body.appendChild(d);
    return d;
}
const SERIF = { fontFamily: '"Liberation Serif", serif' };
const NUM = { fontWeight: 'bold', transform: 'translateY(-50%)' };
const CADET = '#4f9a9c', PALE = '#d5f2f7', PERU = '#cd853f', DGREEN = '#228b22', DRED = '#b22222';

// Chart caption and logo
text('NZDCAD,H1  0.88250 0.88275 0.88174 0.88245', 44, 49, 11, '#8f8f8f', { whiteSpace: 'pre' });
text('PZ Divergence Lite (CCI 14)', 44, 565, 11, '#707070');
text('Trade Detector 03 0.0000', 44, 618, 11, '#707070');
text('Trade Detector 05 1.7320 2.7182 10.0416 -2.0415', 44, 639, 11, '#707070');
text('Trade Detector', 50, 72, 24, '#151515', { fontFamily: '"Liberation Serif", serif', fontStyle: 'italic', webkitTextStroke: '0.5px #6e6e6e' });
text('Global Fx Trading Group', 55, 86, 14, '#808080', SERIF);
text('#70658848 sl', 47, 408, 12, '#707070');
text('#70658848 buy 2.00', 47, 473, 12, '#707070');

// Rotated object names
text('Trade', 745, 533, 12, '#808080', { transform: 'translateY(-50%) rotate(-50deg)' });
text('Buy', 1011, 537, 12, '#808080', { transform: 'translateY(-50%) rotate(-55deg)' });

// Timeframe strip
frames.forEach((f, i) => {
    const d = text(f, frameLabelX[i], 68, 14, '#e0e0e0');
    d.style.transform = 'translate(-50%,-50%) scaleX(0.8)';
    d.style.transformOrigin = 'center';
    const s = document.createElement('div');
    s.className = 'swatch';
    s.style.left = frameBoxX[i] + 'px';
    s.style.top = '75px';
    s.style.background = frameColors[i];
    document.body.appendChild(s);
});

// Price tags on the axis and level tags in the chart
function priceTag(label, y, bg) {
    const d = document.createElement('div');
    d.className = 'price';
    d.textContent = label;
    d.style.top = (y - 6) + 'px';
    d.style.background = bg;
    document.body.appendChild(d);
}
priceTag('0.88306', 112, '#00ced1');
priceTag('0.88245', 125, '#808080');
function levelTag(label, y, color) {
    const d = document.createElement('div');
    d.className = 'tag';
    d.textContent = label;
    d.style.left = '1395px';
    d.style.top = (y - 6) + 'px';
    d.style.color = color;
    d.style.borderColor = color;
    document.body.appendChild(d);
}
levelTag('0.88490', 72, '#8a8a8a');
levelTag('0.86960', 405, '#e8e8e8');
levelTag('0.86356', 537, '#a0a0a0');

// Lower right block
const BIG = { fontWeight: 'bold', textShadow: '1px 1px 0 #456, -1px 0 0 #345', transform: 'translateY(-50%) scaleX(0.92)' };
text('0.88490', 1663, 447, 17, '#d5dcdc', BIG);
text('0.86960', 1663, 503, 17, '#d5dcdc', BIG);
text('H4', 1677, 476, 27, '#000080', { fontStyle: 'italic' });
text('Spread: 61 points.', 1627, 521, 15, '#bdbdbd');
text('Expiration Date : 2021.4.3', 1604, 536, 13, '#7f7f7f', SERIF);

// Info panel
const panelHeads = [['1 Hour', 160], ['Daily Average Range:', 220], ['Risk to Reward Ratio:', 415], ['Maximum StopLosses;', 610], ['Current Daily Data', 810], ['Price', 950]];
panelHeads.forEach(h => text(h[0], h[1], 711, 14, CADET));
text('NZDCAD', 85, 711, 19, CADET);
text('MRC1445', 44, 708, 9, '#8f8f8f');
text('98', 366, 711, 16, PERU, NUM);
text('3', 560, 711, 16, PERU, NUM);
const panelRows = [
    [729, 'Prev 1 Daily Range:', '153', 'Prev 10 Daily Range:', '81', 'Distance UP:', '90', 'Long:', '30', '0.87945', 'Daily High', '0.88275', DGREEN],
    [743, 'Prev 5 Daily Range:', '80', 'Prev 20 Daily Range:', '80', 'Distance DN:', '94', 'Short:', '31', '0.88555', 'Daily Low', '0.88174', DRED]
];
panelRows.forEach(r => {
    const y = r[0], c = r[12];
    text(r[1], 85, y, 14, PALE);
    text(r[2], 220.5, y, 16, PERU, NUM);
    text(r[3], 275, y, 14, PALE);
    text(r[4], 415, y, 16, PERU, NUM);
    text(r[5], 470, y, 14, PALE);
    text(r[6], 560, y, 16, PERU, NUM);
    text(r[7], 610, y, 14, PALE);
    text(r[8], 655, y, 16, c, NUM);
    text('Pips @', 690, y, 14, PALE);
    text(r[9], 740, y, 15.5, c, NUM);
    text(r[10], 812, y, 14, PALE);
    text(r[11], 875.5, y, 15.5, c, NUM);
});
text('0.88245', 946, 741, 27, '#ff4500', { transform: 'translateY(-50%)' });

// Symbol buttons
[[buttonRowOne, 756], [buttonRowTwo, 778]].forEach(row => {
    row[0].forEach((name, i) => {
        const b = document.createElement('div');
        b.className = 'btn';
        const s = document.createElement('span');
        s.textContent = name;
        b.appendChild(s);
        b.style.left = (42 + i * 67.9) + 'px';
        b.style.top = row[1] + 'px';
        b.style.width = '66.5px';
        b.style.height = '21px';
        if (name === 'NZDCAD') b.style.color = '#0000ff';
        document.body.appendChild(b);
    });
});
</script>
</body>
</html>
